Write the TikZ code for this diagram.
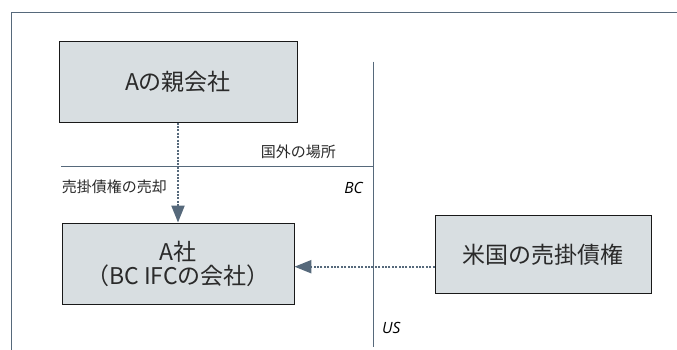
\documentclass[tikz,border=0pt]{standalone}
\usepackage{fontspec}
\setmainfont{Noto Sans CJK JP}
\newfontfamily\slantfont{Open Sans}
\usetikzlibrary{arrows.meta}

\definecolor{boxgray}{HTML}{D8DEE1}
\definecolor{slate}{HTML}{56697B}
\definecolor{textgray}{HTML}{2A2A2A}

\tikzset{
    box/.style={draw=black!90, fill=boxgray, line width=0.9pt, inner sep=0pt,
        align=center, text=textgray, font=\fontsize{23}{24}\selectfont},
    flow/.style={draw=slate, line width=2.2pt, dash pattern=on 2pt off 1.4pt,
        -{Triangle[length=17pt,width=13pt]}},
    border/.style={draw=slate, line width=1pt},
    tag/.style={inner sep=0pt, text=textgray, font=\fontsize{15}{16}\selectfont},
    zone/.style={inner sep=0pt, text=black, font=\slantfont\itshape\fontsize{15.5}{16}\selectfont}
}

\begin{document}
\begin{tikzpicture}[x=1pt, y=-1pt]
    \useasboundingbox (0,0) rectangle (677,350);

    % frame and borders
    \draw[border] (11.7,350) -- (11.7,12.3) -- (677,12.3);
    \coordinate(divtop) at (373,61.7);
    \coordinate(divbottom) at (373,346.7);
    \coordinate(abroadleft) at (61,166.7);
    \draw[border] (divtop) -- (divbottom);
    \draw[border] (abroadleft) -- (abroadleft -| divtop);

    % entities
    \node[box, minimum width=238pt, minimum height=81pt](parent) at (178,81.6) {Aの親会社};
    \node[box, minimum width=232pt, minimum height=81pt](company) at (178,263.5) {A社\\（BC IFCの会社）};
    \node[box, minimum width=216pt, minimum height=77.5pt](receivable) at (543,254.4) {米国の売掛債権};

    % flows
    \draw[flow] (parent) -- (company);
    \draw[flow] ([yshift=-12.3pt]receivable.west) -- ([yshift=-12.3pt]receivable.west -| company.east);

    % labels
    \node[tag, anchor=east](sale) at (167,187) {売掛債権の売却};
    \node[tag, anchor=east](abroad) at (336,151.7) {国外の場所};
    \node[zone, anchor=east](bc) at (363,188) {BC};
    \node[zone, anchor=west](us) at (382,328) {US};
\end{tikzpicture}
\end{document}
